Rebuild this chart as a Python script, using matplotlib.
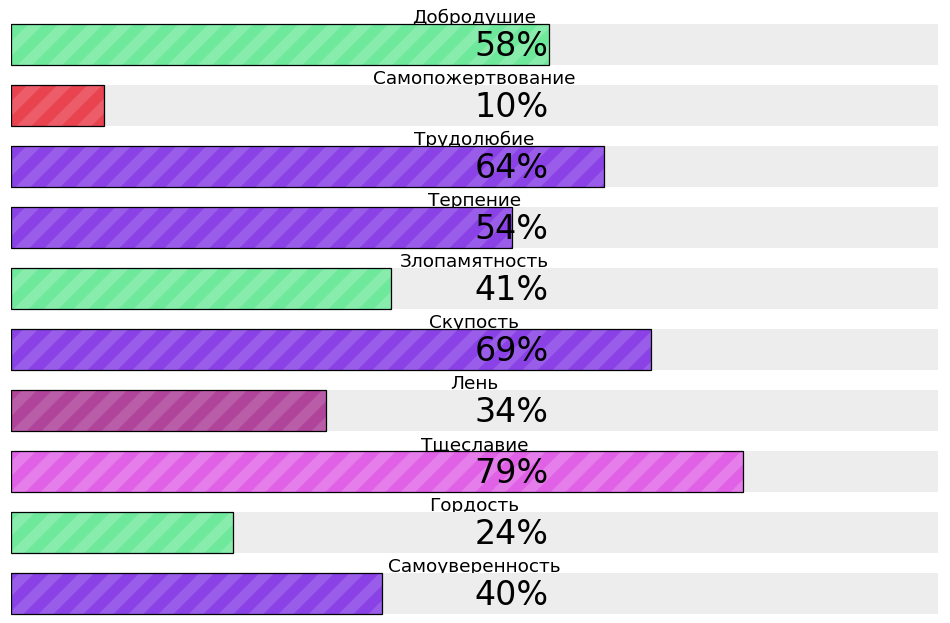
import matplotlib
matplotlib.use('Agg')
import matplotlib.pyplot as plt

plt.rcParams['font.family'] = ['DejaVu Sans']

labels = ['Добродушие', 'Самопожертвование', 'Трудолюбие', 'Терпение', 'Злопамятность',
          'Скупость', 'Лень', 'Тщеславие', 'Гордость', 'Самоуверенность']
values = [58, 10, 64, 54, 41, 69, 34, 79, 24, 40]
kinds = ['green', 'red', 'purple', 'purple', 'green', 'purple', 'plum', 'pink', 'green', 'purple']

# base colour and lighter stripe colour for each kind
base_colors = {'green': '#6ee89a', 'red': '#e8434f', 'purple': '#8a41e6',
               'plum': '#b0449a', 'pink': '#e060e6'}
stripe_colors = {'green': '#88edac', 'red': '#ec5d69', 'purple': '#9a5dea',
                 'plum': '#ba5da8', 'pink': '#e57deb'}

DPI = 180  # hatch tile = 1 inch; '//' at this dpi gives ~30px stripe period
plt.rcParams['hatch.linewidth'] = 4.24

fig = plt.figure(figsize=(950 / DPI, 623 / DPI), dpi=DPI)
ax = fig.add_axes([11 / 950, 0, 927 / 950, 1])

pos = list(range(len(labels)))
h = 41 / 61

ax.barh(pos, [100] * len(pos), height=h, color='#ededed', linewidth=0, zorder=1)
ax.barh(pos, values, height=h, color=[base_colors[k] for k in kinds],
        edgecolor=[stripe_colors[k] for k in kinds], linewidth=0, hatch='//', zorder=2)
ax.barh(pos, values, height=h, fill=False, edgecolor='black', linewidth=0.5, zorder=3)

for i, (lab, v) in enumerate(zip(labels, values)):
    ax.text(50, i - h / 2 - 0.017, lab, ha='center', va='baseline', fontsize=7.4,
            color='black', zorder=0.5)
    ax.text(54, i + 0.19, f'{v}%', ha='center', va='baseline', fontsize=13.3,
            color='black', zorder=4)

ax.set_xlim(0, 100)
ax.set_ylim((623 - 44.5) / 61, -44.5 / 61)
ax.axis('off')

fig.savefig('out.png', dpi=DPI)
